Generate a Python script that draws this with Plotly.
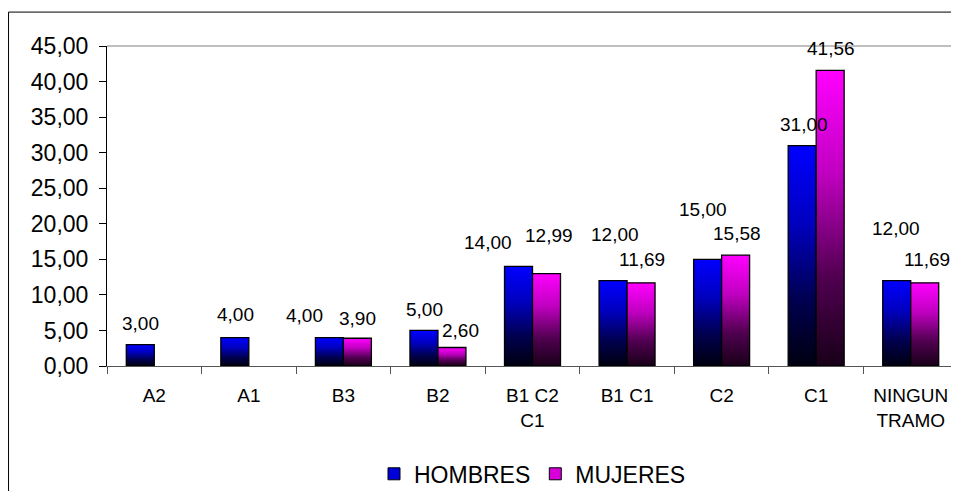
import plotly.graph_objects as go

# ---- data ----
CATEGORIES = ["A2", "A1", "B3", "B2", "B1 C2<br>C1", "B1 C1", "C2", "C1", "NINGUN<br>TRAMO"]
HOMBRES = [3.00, 4.00, 4.00, 5.00, 14.00, 12.00, 15.00, 31.00, 12.00]
MUJERES = [None, None, 3.90, 2.60, 12.99, 11.69, 15.58, 41.56, 11.69]
SERIES_NAMES = ["HOMBRES", "MUJERES"]
Y_TICKS = [0, 5, 10, 15, 20, 25, 30, 35, 40, 45]

# ---- styles ----
FONT = "Liberation Sans, Arial, sans-serif"
BAR_W = 0.296
SCALES = [
    [[0, "#000010"], [0.3, "#000050"], [0.65, "#0000c0"], [1, "#0000ff"]],
    [[0, "#180018"], [0.3, "#500050"], [0.65, "#c000c0"], [1, "#ff00ff"]],
]
LEGEND_COLORS = ["#0000d8", "#d800d8"]
# label pixel shifts (dx, dy-up) to mimic the original manual label placement
SHIFT_H = [(0, 21), (1, 23), (-25, 22), (1, 21), (-31, 24), (2, 46), (-5, 50), (2, 21), (-1, 52)]
SHIFT_M = [None, None, (0, 20), (9, 17), (3, 38), (1, 23), (1, 22), (1, 22), (2, 23)]

fig = go.Figure()

for s, (vals, shifts) in enumerate([(HOMBRES, SHIFT_H), (MUJERES, SHIFT_M)]):
    for i, v in enumerate(vals):
        if v is None:
            continue
        x0 = i - BAR_W if s == 0 else i
        x1 = x0 + BAR_W
        fig.add_trace(go.Scatter(
            x=[x0, x1, x1, x0, x0],
            y=[0, 0, v, v, 0],
            mode="lines",
            fill="toself",
            fillgradient=dict(type="vertical", colorscale=SCALES[s], start=0, stop=v),
            line=dict(color="black", width=1.3),
            showlegend=False,
            hoverinfo="skip",
        ))
        dx, dy = shifts[i]
        fig.add_annotation(
            x=(x0 + x1) / 2, y=v, xref="x", yref="y",
            text=f"{v:.2f}".replace(".", ","),
            showarrow=False, xanchor="center", yanchor="middle",
            xshift=dx, yshift=dy,
            font=dict(family=FONT, size=19, color="black"),
        )

# legend entries
for s, name in enumerate(SERIES_NAMES):
    fig.add_trace(go.Bar(
        x=[None], y=[None], name=name,
        marker=dict(color=LEGEND_COLORS[s], line=dict(color="black", width=1)),
        showlegend=True,
    ))

n = len(CATEGORIES)
fig.update_layout(
    width=951, height=483,
    margin=dict(l=99, r=1, t=38, b=125, autoexpand=False),
    paper_bgcolor="white", plot_bgcolor="white",
    separators=",.",
    font=dict(family=FONT, color="black"),
    showlegend=True,
    legend=dict(
        orientation="h", x=0.5, xanchor="center", y=-0.337, yanchor="middle",
        font=dict(family=FONT, size=23, color="black"),
        itemclick=False, itemdoubleclick=False,
    ),
    xaxis=dict(
        range=[-0.5, n - 0.5], tickmode="array",
        tickvals=list(range(n)), ticktext=CATEGORIES,
        ticks="", showgrid=False, zeroline=False, automargin=False,
        showline=True, linecolor="#555555", linewidth=1,
        tickfont=dict(family=FONT, size=19, color="black"),
        ticklabelstandoff=12,
        minor=dict(tickmode="linear", tick0=-0.5, dtick=1, ticks="outside",
                   ticklen=7, tickcolor="#555555", tickwidth=1, showgrid=False),
        fixedrange=True,
    ),
    yaxis=dict(
        range=[0, 45], tickmode="array", tickvals=Y_TICKS, tickformat=".2f",
        ticks="outside", ticklen=7, tickcolor="black", tickwidth=1,
        showline=True, linecolor="black", linewidth=1,
        showgrid=False, zeroline=False, automargin=False,
        tickfont=dict(family=FONT, size=23, color="black"),
        ticklabelstandoff=6,
        fixedrange=True,
    ),
    shapes=[
        dict(type="line", xref="paper", yref="paper", x0=0, x1=1.05, y0=1, y1=1,
             line=dict(color="#808080", width=1.2), layer="below"),
        dict(type="rect", xref="paper", yref="paper", x0=-0.1157, x1=1.05, y0=-0.6, y1=1.106,
             line=dict(color="black", width=1), fillcolor="rgba(0,0,0,0)", layer="below"),
    ],
)

fig.write_html("out.html")
